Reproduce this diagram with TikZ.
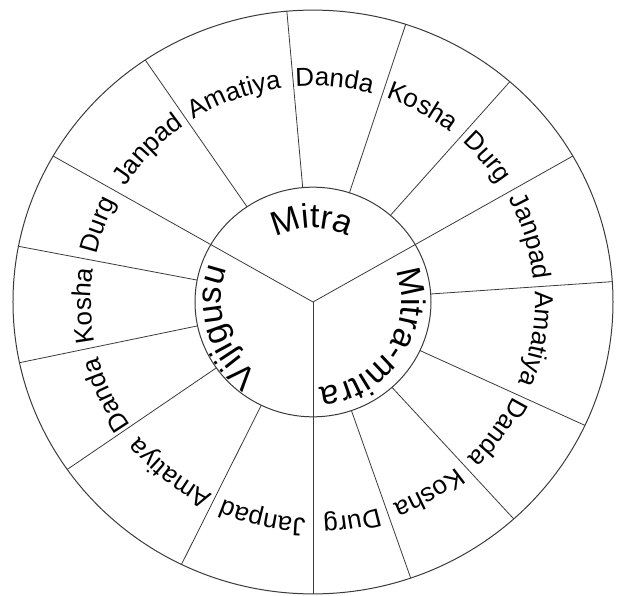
\documentclass[tikz,border=0pt]{standalone}
\usepackage{fontspec}
\setmainfont{Liberation Sans}
\usepackage{tikz}
\usetikzlibrary{decorations.text}
\definecolor{ink}{HTML}{111111}
\definecolor{rimgray}{HTML}{3A3A3A}
\newcommand{\ringfont}{\fontsize{26}{30}\selectfont}
\newcommand{\hubfont}{\fontsize{34}{40}\selectfont}
\tikzset{
  rim/.style={draw=rimgray,line width=1pt},
  spoke/.style={draw=rimgray,line width=0.8pt},
  ringtext/.style={decorate,decoration={text along path,text align=center,
                   text={|\ringfont|#1}}},
  hubtext/.style={decorate,decoration={text along path,text align=center,
                  text={|\hubfont|#1}}}
}
\begin{document}
\begin{tikzpicture}[x=1pt,y=0.973pt]
  \useasboundingbox (-313pt,-293pt) rectangle (308pt,302pt);
  \coordinate (hub) at (0,0);
  \draw[rim] (hub) circle[radius=300];
  \draw[rim] (hub) circle[radius=118];

  % three rulers of the hub, then the spokes of each ring sector
  \foreach \ang in {30,150,270}
    \draw[spoke] (hub) -- (\ang:300);
  \foreach \start in {-90,30,150}
    \foreach \off in {19,42,65,94}
      \draw[spoke] ({\start+\off}:118) -- ({\start+\off}:300);

  \path[hubtext=Mitra] (161:76) arc[start angle=161,end angle=21,radius=76];
  \path[hubtext=Mitra-mitra] (58:88) arc[start angle=58,end angle=-122,radius=88];
  \path[hubtext=Vijigusu] (286:92) arc[start angle=286,end angle=106,radius=92];

  \foreach \start in {-90,30,150}
    \foreach \word/\off in {Durg/10,Kosha/31,Danda/54.5,Amatiya/80.5,Janpad/107} {
      \pgfmathsetmacro{\labang}{\start+\off}
      \path[ringtext/.expanded=\word] ({\labang+45}:222)
        arc[start angle=\labang+45,end angle=\labang-45,radius=222];
    }
\end{tikzpicture}
\end{document}
